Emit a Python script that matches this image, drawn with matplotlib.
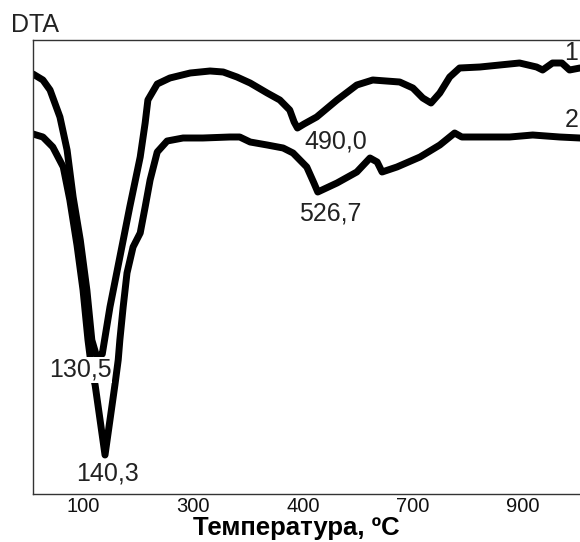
import matplotlib
matplotlib.use("Agg")
import matplotlib.pyplot as plt

plt.rcParams['font.family'] = ['Liberation Sans', 'DejaVu Sans']

# кривая 1
t1 = [9, 27, 40, 58, 71, 82, 95, 107, 116, 124, 130, 135, 149, 167, 185, 204, 213, 218,
      235, 258, 295, 331, 355, 380, 404, 435, 458, 476, 484, 490, 502, 525, 562, 598,
      627, 676, 700, 718, 733, 749, 767, 785, 822, 858, 894, 925, 936, 954, 971, 985, 1004]
dta1 = [42.0, 41.4, 40.4, 37.7, 34.4, 29.7, 25.4, 20.4, 15.4, 13.9, 13.8, 14.0, 18.7, 23.7,
        28.7, 33.7, 37.1, 39.4, 41.0, 41.6, 42.1, 42.3, 42.2, 41.7, 41.1, 40.1, 39.4, 38.4,
        37.2, 36.6, 37.0, 37.7, 39.4, 40.9, 41.4, 41.2, 40.6, 39.6, 39.1, 40.1, 41.7, 42.6,
        42.7, 42.9, 43.1, 42.7, 42.4, 43.1, 43.1, 42.4, 42.6]

# кривая 2
t2 = [9, 27, 45, 64, 76, 89, 100, 109, 116, 122, 131, 140, 149, 158, 164, 167, 173, 180,
      191, 204, 213, 222, 235, 253, 282, 318, 367, 385, 404, 435, 464, 482, 507, 520, 527,
      562, 598, 622, 635, 644, 671, 713, 749, 776, 789, 809, 840, 876, 918, 967, 1004]
dta2 = [36.0, 35.7, 34.7, 32.7, 29.4, 24.9, 20.4, 15.4, 12.4, 10.9, 7.4, 3.9, 7.4, 10.9,
        13.4, 15.4, 18.7, 22.1, 24.7, 26.1, 28.7, 31.4, 34.2, 35.3, 35.6, 35.6, 35.7, 35.7,
        35.2, 34.9, 34.6, 34.1, 32.7, 31.1, 30.2, 31.1, 32.2, 33.6, 33.2, 32.2, 32.7, 33.7,
        34.9, 36.1, 35.7, 35.7, 35.7, 35.7, 35.9, 35.7, 35.6]

tick_pos = [100, 300, 500, 700, 900]
tick_lab = ['100', '300', '400', '700', '900']

peaks = [('130,5', 95, 12.4), ('140,3', 144, 2.1), ('490,0', 560, 35.3), ('526,7', 549, 28.0)]
curve_names = [('1', 987, 44.1), ('2', 989, 37.4)]

fig = plt.figure(figsize=(5.8, 5.42), dpi=100)
ax = fig.add_axes([33/580, 48/542, 1 - 33/580, (494-40)/542])

ax.plot(t1, dta1, color='black', lw=5, solid_joinstyle='round', solid_capstyle='round')
ax.plot(t2, dta2, color='black', lw=5, solid_joinstyle='round', solid_capstyle='round')

for txt, x, y in peaks:
    ax.text(x, y, txt, fontsize=18, color='#222222', ha='center', va='center',
            bbox=dict(facecolor='white', edgecolor='none', pad=0.5))
for txt, x, y in curve_names:
    ax.text(x, y, txt, fontsize=18, color='#222222', ha='center', va='center')

ax.set_xlim(9, 1004)
ax.set_ylim(0, 45.4)
ax.set_xticks(tick_pos)
ax.set_xticklabels(tick_lab, fontsize=14.5, color='#111111')
ax.set_yticks([])
ax.tick_params(axis='x', length=0, pad=2)
for s in ['left', 'top', 'bottom']:
    ax.spines[s].set_color('#333333')
    ax.spines[s].set_linewidth(1.0)
ax.spines['right'].set_visible(False)

# подпись оси
fig.text(296/580, 1 - 535/542, 'Температура, ºC', fontsize=18.5, fontweight='bold',
         ha='center', va='baseline')
fig.text(35/580, 1 - 25/542, 'DTA', fontsize=18, color='#222222', ha='center', va='center')

fig.savefig('out.png', dpi=100)
